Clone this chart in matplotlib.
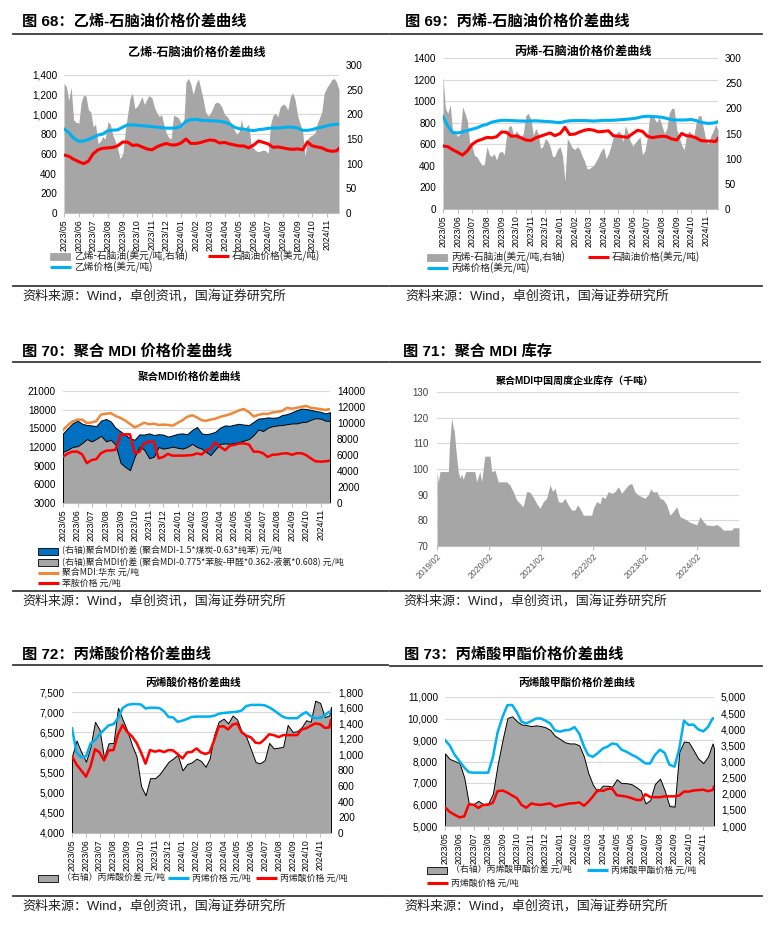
import matplotlib
matplotlib.use('Agg')
import matplotlib.pyplot as plt
import matplotlib.dates as mdates
from matplotlib.lines import Line2D
from matplotlib.patches import Rectangle
from matplotlib.ticker import FuncFormatter
import pandas as pd

plt.rcParams['font.family'] = ['Liberation Sans', 'Noto Sans CJK SC']
plt.rcParams['axes.unicode_minus'] = False

W, H = 774, 927

# ---------------------------------------------------------------- data
months = pd.date_range('2023-05-01', '2024-11-01', freq='MS')
dekads = [m + pd.Timedelta(days=d) for m in months for d in (0, 10, 20)]
pentads = [m + pd.Timedelta(days=d) for m in months for d in (0, 5, 10, 15, 20, 25)]

# 图68 乙烯-石脑油
eth_dates = dekads + [pd.Timestamp('2024-11-26')]
eth_spread = [263, 256, 228, 255, 189, 184, 182, 225, 239, 237,
              209, 205, 175, 180, 141, 145, 155, 150, 185, 180,
              158, 146, 132, 110, 120, 165, 200, 233, 243, 212,
              216, 225, 236, 220, 230, 238, 233, 215, 203, 196,
              199, 178, 162, 153, 150, 198, 196, 193, 182, 175,
              265, 273, 262, 240, 262, 272, 252, 230, 205, 197,
              200, 210, 222, 225, 222, 215, 199, 196, 188, 178,
              169, 160, 165, 190, 165, 175, 180, 141, 130, 126,
              124, 126, 128, 126, 121, 180, 198, 202, 195, 215,
              221, 218, 209, 235, 244, 230, 195, 180, 165, 115,
              150, 155, 158, 161, 180, 192, 205, 243, 255, 262,
              270, 273, 265, 250]
eth_naphtha = [588, 575, 545, 520, 500, 525, 600, 640, 656, 660,
               665, 680, 720, 718, 685, 690, 670, 650, 640, 670,
               690, 705, 690, 690, 710, 750, 705, 705, 715, 730,
               740, 735, 710, 715, 700, 690, 680, 680, 660, 690,
               730, 715, 700, 666, 670, 660, 650, 645, 650, 640,
               720, 680, 670, 660, 635, 625, 630, 655]
eth_price = [852, 815, 760, 725, 730, 745, 765, 790, 800, 835,
             840, 842, 870, 893, 893, 890, 885, 880, 876, 870,
             865, 860, 860, 862, 880, 930, 945, 950, 940, 937,
             935, 933, 930, 920, 903, 870, 855, 850, 840, 835,
             845, 850, 858, 862, 862, 866, 872, 870, 860, 838,
             838, 845, 860, 870, 885, 895, 900, 900]

# 图69 丙烯-石脑油
pro_dates = dekads + [pd.Timestamp('2024-11-26')]
pro_spread = [265, 200, 190, 208, 155, 152, 144, 150, 203, 190,
              175, 130, 124, 106, 104, 95, 88, 88, 124, 108,
              104, 110, 97, 112, 115, 108, 148, 165, 165, 143,
              155, 150, 143, 150, 185, 190, 178, 146, 160, 150,
              120, 125, 140, 135, 124, 104, 105, 118, 124, 105,
              55, 140, 132, 122, 118, 124, 118, 105, 95, 80,
              80, 83, 87, 95, 104, 115, 122, 100, 110, 125,
              143, 148, 154, 152, 133, 165, 155, 136, 125, 132,
              138, 143, 108, 115, 140, 183, 188, 180, 172, 182,
              165, 150, 160, 190, 200, 200, 157, 142, 127, 118,
              145, 155, 150, 143, 170, 185, 186, 163, 135, 130,
              145, 155, 168, 157]
pro_naphtha = [584, 578, 550, 525, 500, 540, 600, 630, 645, 664,
               660, 670, 715, 710, 675, 678, 660, 640, 635, 660,
               675, 690, 705, 680, 700, 757, 690, 695, 715, 730,
               738, 730, 715, 720, 725, 680, 675, 670, 665, 700,
               730, 720, 675, 662, 668, 675, 670, 650, 640, 700,
               680, 675, 660, 635, 630, 630, 625, 655]
pro_price = [856, 770, 710, 705, 715, 728, 740, 752, 772, 785,
             805, 815, 822, 822, 820, 818, 816, 815, 816, 818,
             815, 812, 810, 805, 800, 812, 818, 820, 820, 820,
             818, 816, 818, 822, 822, 823, 826, 830, 833, 838,
             845, 856, 860, 858, 855, 850, 840, 828, 825, 825,
             826, 830, 820, 805, 795, 795, 800, 810]

# 图70 聚合MDI
mdi_dates = dekads
mdi_price = [14730, 15500, 16100, 16400, 16400, 15850, 15950, 16150, 17200, 17350,
             17450, 17000, 16650, 16250, 15700, 15150, 15500, 15900, 15650, 15750,
             15550, 15600, 15550, 15420, 15900, 16300, 16850, 17100, 16750, 16300,
             16200, 16400, 16550, 16850, 17050, 17250, 17550, 17900, 18100, 17600,
             16900, 17150, 17350, 17300, 17550, 17650, 17800, 18300, 18150, 18300,
             18450, 18600, 18300, 18200, 18100, 17950, 18100]
mdi_spread_coal = [8700, 9350, 9950, 10300, 9900, 9750, 9700, 9600, 10300, 10500,
                   10200, 9400, 8950, 8500, 8100, 7900, 8580, 8550, 8700, 8500,
                   8600, 8550, 8300, 8450, 8650, 8700, 8600, 9150, 9500, 8700,
                   8600, 8700, 8900, 9450, 9700, 9650, 9800, 9900, 9800, 9750,
                   10150, 10550, 10600, 10700, 10650, 10700, 11000, 11100, 11350, 11600,
                   11800, 11750, 11650, 11500, 11400, 11200, 11350]
mdi_spread_aniline = [6400, 6650, 7000, 7100, 7500, 8000, 7700, 8000, 8400, 7700,
                      7900, 7300, 5000, 4500, 4100, 5800, 7000, 6700, 5600, 5800,
                      7000, 6800, 6900, 7050, 6900, 6800, 7000, 7400, 7000, 6800,
                      6400, 6000, 6700, 7400, 7450, 7400, 7500, 7600, 7800, 8000,
                      8500, 9200, 9000, 9400, 9600, 9700, 9750, 9850, 9950, 9950,
                      10100, 10150, 10400, 10600, 10550, 10300, 10250]
aniline_price = [10450, 10950, 11250, 11250, 10800, 9400, 9900, 10050, 11000, 11400,
                 11450, 11550, 14000, 14040, 14040, 10980, 11200, 12590, 12860, 12860,
                 10180, 10400, 10900, 10600, 10610, 10610, 10650, 10700, 10980, 10800,
                 11400, 11700, 12750, 12000, 11500, 12200, 12350, 12550, 12590, 12400,
                 11250, 11250, 11000, 10400, 10750, 10800, 10950, 11000, 10750, 11000,
                 11000, 10700, 10180, 9700, 9640, 9700, 9800]

# 图71 聚合MDI库存(千吨)
inv_dates = ['2019-02-01', '2019-02-10', '2019-02-22', '2019-04-22', '2019-04-29',
             '2019-05-15', '2019-05-26', '2019-06-02', '2019-06-13', '2019-06-30',
             '2019-07-12', '2019-07-23', '2019-08-04', '2019-08-23', '2019-10-25',
             '2019-11-06', '2019-11-29', '2019-12-11', '2020-01-03', '2020-02-08',
             '2020-02-20', '2020-03-14', '2020-04-06', '2020-06-03', '2020-06-27',
             '2020-07-20', '2020-08-13', '2020-09-05', '2020-09-28', '2020-10-22',
             '2020-11-14', '2020-12-08', '2021-01-01', '2021-01-24', '2021-02-17',
             '2021-03-12', '2021-04-05', '2021-04-23', '2021-05-10', '2021-06-02',
             '2021-06-26', '2021-07-19', '2021-08-11', '2021-09-04', '2021-09-27',
             '2021-10-14', '2021-11-01', '2021-11-25', '2022-01-22', '2022-02-03',
             '2022-02-26', '2022-03-22', '2022-04-03', '2022-04-26', '2022-05-19',
             '2022-06-12', '2022-07-05', '2022-07-29', '2022-08-21', '2022-09-13',
             '2022-10-07', '2022-10-30', '2022-11-23', '2022-12-16', '2023-01-09',
             '2023-02-01', '2023-02-24', '2023-03-13', '2023-03-31', '2023-04-24',
             '2023-05-17', '2023-06-10', '2023-07-03', '2023-07-26', '2023-08-19',
             '2023-09-11', '2023-10-05', '2023-10-28', '2023-11-21', '2023-12-14',
             '2024-01-06', '2024-01-30', '2024-02-22', '2024-03-17', '2024-04-09',
             '2024-05-26', '2024-06-18', '2024-07-12', '2024-08-04', '2024-10-02',
             '2024-10-13', '2024-11-22']
inv_vals = [98.7, 95, 99, 99, 109,
            120, 116, 115, 108, 99,
            96.4, 98, 96, 99, 99,
            95, 99, 95, 105, 105,
            99, 99.5, 95, 95, 93.8,
            91.2, 88, 86.6, 85.3, 91.2,
            91, 89, 86.6, 84.7, 87.3,
            88.6, 93.8, 91.2, 92.5, 87.3,
            87, 88.6, 86, 84, 84,
            86, 84.7, 82, 82, 84.7,
            87.3, 86.5, 89.2, 88.5, 91.2,
            90.5, 91.2, 93.1, 90.5, 92.2,
            93.8, 94.4, 91, 89.9, 89.2,
            88.6, 90, 92.2, 91, 91.2,
            88.6, 88, 86, 82, 83.5,
            85.3, 81.4, 80.8, 80.1, 79.2,
            78.8, 78.2, 81.4, 79.5, 78.2,
            77.9, 78.4, 77.5, 76.2, 76.2,
            77.1, 77.1]

# 图72 丙烯酸
aa_dates = dekads + [pd.Timestamp('2024-11-25')]
aa_spread = [975, 1180, 1040, 910, 1100, 1420, 1320, 960, 1145, 1150,
             1600, 1450, 1300, 1120, 980, 600, 480, 700, 700, 750,
             830, 910, 950, 1000, 800, 880, 900, 950, 920, 845,
             950, 1250, 1420, 1460, 1400, 1500, 1450, 1290, 1230, 1060,
             905, 890, 930, 1150, 1080, 1090, 1100, 1380, 1290, 1300,
             1350, 1440, 1420, 1690, 1660, 1480, 1500, 1610]
aa_propylene = [6600, 6000, 5880, 5900, 6220, 6300, 6450, 6560, 6670, 6700,
                6850, 7100, 7180, 7200, 7200, 7190, 7090, 7110, 7110, 7100,
                7020, 6880, 6870, 6760, 6790, 6830, 6880, 6890, 6890, 6890,
                6890, 6910, 6960, 6980, 6990, 7000, 7010, 7040, 7150, 7180,
                7180, 7180, 7170, 7120, 7050, 6960, 6880, 6850, 6850, 6850,
                6940, 7000, 6900, 6850, 6860, 6920, 7010, 7010]
aa_price = [5900, 5700, 5560, 5400, 5650, 6080, 6000, 5800, 6050, 6060,
            6450, 6680, 6500, 6400, 6240, 6000, 5720, 6060, 6020, 6050,
            6010, 6060, 6050, 5960, 5850, 6000, 6010, 6100, 6000, 5960,
            6000, 6300, 6640, 6650, 6570, 6690, 6720, 6500, 6420, 6370,
            6240, 6230, 6330, 6450, 6430, 6380, 6430, 6430, 6430, 6430,
            6570, 6600, 6660, 6720, 6700, 6610, 6620, 6800]

# 图73 丙烯酸甲酯
ma_dates = dekads + [pd.Timestamp('2024-11-24')]
ma_spread = [3250, 3080, 3020, 2950, 2500, 1680, 1680, 1780, 1680, 1700,
             2000, 2900, 3700, 4350, 4400, 4250, 4150, 4130, 4100, 4120,
             4100, 4060, 3980, 3800, 3700, 3600, 3560, 3560, 3500, 3150,
             2650, 2280, 2070, 2250, 2250, 2220, 2450, 2330, 2330, 2300,
             2210, 2100, 1700, 1800, 2300, 2470, 2100, 1620, 1600, 3300,
             3620, 3600, 3360, 3100, 2950, 3150, 3560, 3400]
ma_price = [9000, 8750, 8330, 8010, 7720, 7500, 7480, 7480, 7480, 7480,
            8200, 9350, 10100, 10620, 10630, 10300, 9850, 9770, 9880, 10000,
            10000, 9900, 9770, 9450, 9390, 9450, 9470, 9600, 9300, 8700,
            8300, 8220, 8380, 8600, 8690, 8840, 8800, 8550, 8460, 8320,
            8220, 8070, 7910, 7910, 8300, 8550, 8400, 7850, 7760, 8600,
            9900, 9700, 9720, 9500, 9400, 9600, 10000, 10010]
ma_aa_price = [5870, 5660, 5530, 5400, 5450, 6010, 5990, 5840, 5980, 5990,
               6080, 6620, 6650, 6550, 6420, 6300, 5980, 5850, 6050, 6000,
               5980, 6020, 6050, 5900, 5960, 6000, 6050, 6060, 6100, 5940,
               6120, 6370, 6670, 6630, 6720, 6740, 6430, 6400, 6370, 6300,
               6220, 6200, 6480, 6350, 6340, 6340, 6380, 6380, 6380, 6420,
               6600, 6600, 6650, 6670, 6690, 6620, 6670, 6830]

GRAY = '#A6A6A6'
RED = '#FF0000'
SKY = '#00B0F0'
ORANGE = '#F0883A'
NAVY = '#0070C0'
GRID = '#D9D9D9'
SOURCE = '资料来源：Wind，卓创资讯，国海证券研究所'

fig = plt.figure(figsize=(W / 100, H / 100), dpi=100, facecolor='white')


# ============================================================ helpers
def fx(px):
    return px / W


def fy(py):
    return 1 - py / H


def rect(x0, y0, x1, y1):
    return [fx(x0), fy(y1), fx(x1) - fx(x0), fy(y0) - fy(y1)]


def plain(v, p):
    return f'{v:.0f}'


def comma(v, p):
    return f'{v:,.0f}'


def hline(x0, x1, y, lw=1.3):
    fig.add_artist(Line2D([fx(x0), fx(x1)], [fy(y), fy(y)], transform=fig.transFigure,
                          color='#3A3A3A', lw=lw))


def header(x, y, text, x0, x1, yl, ys):
    fig.text(fx(x), fy(y), text, fontsize=11, fontweight='bold', va='center', ha='left')
    hline(x0, x1, yl)
    hline(x0, x1, ys)
    fig.text(fx(x), fy(ys + 10), SOURCE, fontsize=9.4, va='center', ha='left', color='#222222')


def chart_title(cx, cy, text, size):
    fig.text(fx(cx), fy(cy), text, fontsize=size, fontweight='bold', ha='center', va='center')


def legend_item(x, y, kind, color, label, edge=None, size=7):
    if kind == 'patch':
        fig.add_artist(Rectangle((fx(x), fy(y + 3.5)), fx(20), 7 / H, transform=fig.transFigure,
                                 facecolor=color, edgecolor=edge or color, lw=0.6))
    else:
        fig.add_artist(Line2D([fx(x), fx(x + 21)], [fy(y), fy(y)], transform=fig.transFigure,
                              color=color, lw=2.2, solid_capstyle='butt'))
    fig.text(fx(x + 24), fy(y), label, fontsize=size, va='center', ha='left', color='#222222',
             family=['Noto Sans CJK SC', 'DejaVu Sans'])


def dual_frame(box, dates, lticks, llim, lfmt, rticks, rlim, rfmt):
    r = rect(*box)
    base = fig.add_axes(r, zorder=1)
    right = fig.add_axes(r, zorder=2, sharex=base)
    top = fig.add_axes(r, zorder=3, sharex=base, sharey=base)
    for a in (base, right, top):
        for s in a.spines.values():
            s.set_visible(False)
    right.patch.set_visible(False)
    top.patch.set_visible(False)

    base.set_xlim(dates[0], dates[-1])
    base.xaxis.set_major_locator(mdates.MonthLocator())
    base.xaxis.set_major_formatter(mdates.DateFormatter('%Y/%m'))
    base.tick_params(axis='x', length=3, color='#BFBFBF', labelsize=6.3, labelrotation=90, pad=1.5)
    base.set_ylim(*llim)
    base.set_yticks(lticks)
    base.yaxis.set_major_formatter(FuncFormatter(lfmt))
    base.tick_params(axis='y', length=0, labelsize=7.2, pad=5)
    base.yaxis.grid(True, color=GRID, lw=0.8)

    right.yaxis.tick_right()
    right.set_ylim(*rlim)
    right.set_yticks(rticks)
    right.yaxis.set_major_formatter(FuncFormatter(rfmt))
    right.tick_params(axis='y', length=0, labelsize=7.2, pad=5)
    right.tick_params(axis='x', length=0, labelbottom=False)

    top.tick_params(axis='both', length=0, labelleft=False, labelbottom=False)
    top.spines['bottom'].set_visible(True)
    top.spines['bottom'].set_color('#BFBFBF')
    top.spines['bottom'].set_linewidth(0.8)
    return base, right, top


# ============================================================ 图68
header(22, 22, '图 68：乙烯-石脑油价格价差曲线', 13, 388, 34, 286)
chart_title(197, 53, '乙烯-石脑油价格价差曲线', 8.7)
b, r, t = dual_frame((64, 65, 339, 213), eth_dates, range(0, 1401, 200), (0, 1500), comma,
                     range(0, 301, 50), (0, 300), plain)
r.fill_between(pentads, 0, eth_spread, color=GRAY, lw=0)
t.plot(eth_dates, eth_naphtha, color=RED, lw=2.2)
t.plot(eth_dates, eth_price, color=SKY, lw=2.2)
legend_item(50, 256, 'patch', GRAY, '乙烯-石脑油(美元/吨,右轴)')
legend_item(208, 256, 'line', RED, '石脑油价格(美元/吨)')
legend_item(50, 267, 'line', SKY, '乙烯价格(美元/吨)')

# ============================================================ 图69
header(405, 22, '图 69：丙烯-石脑油价格价差曲线', 390, 762, 34, 286)
chart_title(583, 52, '丙烯-石脑油价格价差曲线', 8.7)
b, r, t = dual_frame((443, 58, 718, 209), pro_dates, range(0, 1401, 200), (0, 1400), plain,
                     range(0, 301, 50), (0, 300), plain)
r.fill_between(pentads, 0, pro_spread, color=GRAY, lw=0)
t.plot(pro_dates, pro_naphtha, color=RED, lw=2.2)
t.plot(pro_dates, pro_price, color=SKY, lw=2.2)
legend_item(427, 257, 'patch', GRAY, '丙烯-石脑油(美元/吨,右轴)')
legend_item(588, 257, 'line', RED, '石脑油价格(美元/吨)')
legend_item(427, 268, 'line', SKY, '丙烯价格(美元/吨)')

# ============================================================ 图70
header(22, 352, '图 70：聚合 MDI 价格价差曲线', 13, 388, 362, 591)
chart_title(189, 377, '聚合MDI价格价差曲线', 7.6)
b, r, t = dual_frame((63, 391, 330, 503), mdi_dates, range(3000, 21001, 3000), (3000, 21000), plain,
                     range(0, 14001, 2000), (0, 14000), plain)
r.fill_between(mdi_dates, 0, mdi_spread_coal, facecolor=NAVY, edgecolor='black', lw=0.7)
r.fill_between(mdi_dates, 0, mdi_spread_aniline, facecolor=GRAY, edgecolor='black', lw=0.7)
t.plot(mdi_dates, mdi_price, color=ORANGE, lw=1.8)
t.plot(mdi_dates, aniline_price, color=RED, lw=1.8)
legend_item(38, 551, 'patch', NAVY, '(右轴)聚合MDI价差 (聚合MDI-1.5*煤炭-0.63*纯苯) 元/吨',
            edge='black', size=6.4)
legend_item(38, 562, 'patch', GRAY, '(右轴)聚合MDI价差 (聚合MDI-0.775*苯胺-甲醛*0.362-液氯*0.608) 元/吨',
            edge='black', size=6.4)
legend_item(38, 573, 'line', ORANGE, '聚合MDI:华东 元/吨', size=6.4)
legend_item(38, 583, 'line', RED, '苯胺价格 元/吨', size=6.4)

# ============================================================ 图71
header(403, 352, '图 71：聚合 MDI 库存', 390, 760, 362, 591)
chart_title(575, 382, '聚合MDI中国周度企业库存（千吨）', 7.2)
ax = fig.add_axes(rect(437, 392, 739, 546))
inv_x = pd.to_datetime(inv_dates)
ax.fill_between(inv_x, 70, inv_vals, color=GRAY, lw=0)
ax.set_xlim(inv_x[0], inv_x[-1])
ax.set_ylim(70, 130)
ax.set_yticks(range(70, 131, 10))
for s in ax.spines.values():
    s.set_visible(False)
ax.spines['bottom'].set_visible(True)
ax.spines['bottom'].set_color('#BFBFBF')
ax.set_axisbelow(True)
ax.yaxis.grid(True, color=GRID, lw=0.8)
ax.xaxis.set_major_locator(mdates.MonthLocator(bymonth=2))
ax.xaxis.set_major_formatter(mdates.DateFormatter('%Y/%m'))
ax.tick_params(axis='y', length=0, labelsize=7, labelcolor='#404040', pad=6)
ax.tick_params(axis='x', length=3, color='#BFBFBF', labelsize=6.2, labelcolor='#595959', pad=1)
for lab in ax.get_xticklabels():
    lab.set_rotation(45)
    lab.set_ha('right')
    lab.set_rotation_mode('anchor')

# ============================================================ 图72
header(22, 655, '图 72：丙烯酸价格价差曲线', 13, 388, 665, 896)
chart_title(193, 683, '丙烯酸价格价差曲线', 7.7)
b, r, t = dual_frame((72, 692, 331, 833), aa_dates, range(4000, 7501, 500), (4000, 7500), comma,
                     range(0, 1801, 200), (0, 1800), comma)
r.fill_between(aa_dates, 0, aa_spread, facecolor=GRAY, edgecolor='black', lw=0.7)
t.plot(aa_dates, aa_propylene, color=SKY, lw=1.8)
t.plot(aa_dates, aa_price, color=RED, lw=1.8)
legend_item(38, 878, 'patch', GRAY, '（右轴）丙烯酸价差 元/吨', edge='black', size=6.4)
legend_item(168, 878, 'line', SKY, '丙烯价格 元/吨', size=6.4)
legend_item(256, 878, 'line', RED, '丙烯酸价格 元/吨', size=6.4)

# ============================================================ 图73
header(404, 655, '图 73：丙烯酸甲酯价格价差曲线', 390, 762, 666, 896)
chart_title(577, 683, '丙烯酸甲酯价格价差曲线', 7.7)
b, r, t = dual_frame((445, 697, 714, 826), ma_dates, range(5000, 11001, 1000), (5000, 11000), comma,
                     range(1000, 5001, 500), (1000, 5000), comma)
r.fill_between(ma_dates, 1000, ma_spread, facecolor=GRAY, edgecolor='black', lw=0.7)
t.plot(ma_dates, ma_price, color=SKY, lw=1.8)
t.plot(ma_dates, ma_aa_price, color=RED, lw=1.8)
legend_item(427, 870, 'patch', GRAY, '（右轴）丙烯酸甲酯价差 元/吨', edge='black', size=6.4)
legend_item(587, 870, 'line', SKY, '丙烯酸甲酯价格 元/吨', size=6.4)
legend_item(427, 883, 'line', RED, '丙烯酸价格 元/吨', size=6.4)

fig.savefig('out.png', dpi=100, facecolor='white')
